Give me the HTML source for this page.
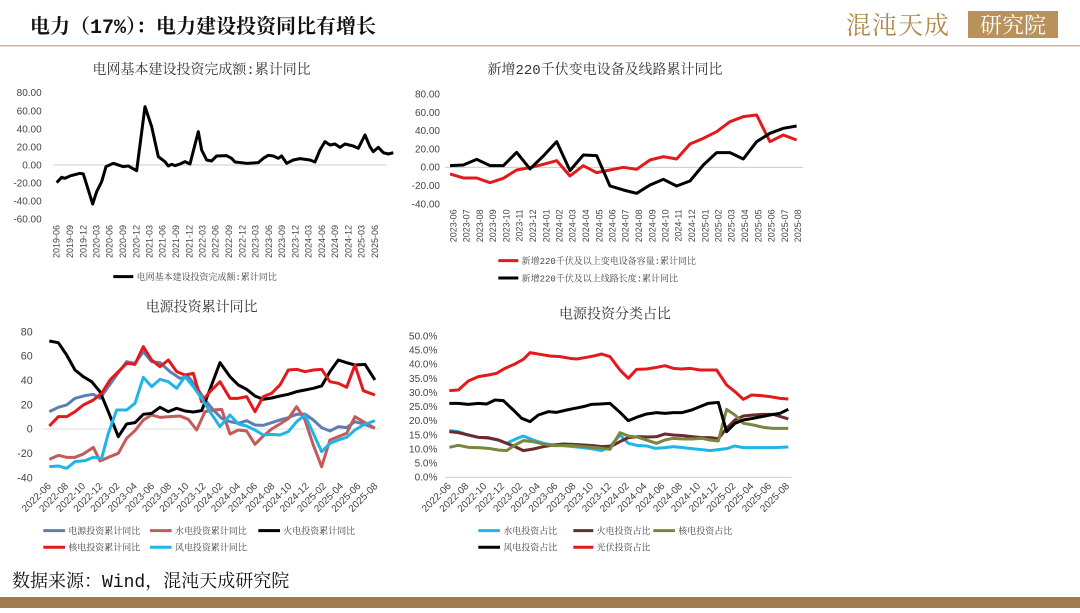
<!DOCTYPE html>
<html><head><meta charset="utf-8"><style>
body{margin:0;width:1080px;height:608px;background:#fff;overflow:hidden;font-family:"Liberation Sans","Noto Sans CJK SC",sans-serif}
svg text{font-family:"Liberation Sans","Noto Sans CJK SC",sans-serif}
svg text.s{font-family:"Liberation Mono","Noto Serif CJK SC",serif}
</style></head><body>
<svg width="1080" height="608" viewBox="0 0 1080 608" xmlns="http://www.w3.org/2000/svg">
<text x="30" y="33" font-size="20" font-weight="bold" fill="#111" class="s">电力（17%）：电力建设投资同比有增长</text>
<text x="846" y="34" font-size="25" fill="#b08a4a" class="s" letter-spacing="1">混沌天成</text>
<rect x="968" y="11" width="90" height="27" fill="#b8925a"/>
<text x="1013" y="33" font-size="22" fill="#fff" text-anchor="middle" class="s">研究院</text>
<rect x="0" y="45" width="1080" height="1.5" fill="#c9b99a"/>
<text x="12" y="587" font-size="18" fill="#111" class="s">数据来源：Wind，混沌天成研究院</text>
<rect x="0" y="597" width="1080" height="11" fill="#a37c4d"/>

<!-- Chart 1 -->
<g transform="translate(0,50) scale(0.3333)" fill="#444">
<text x="605" y="72" font-size="42" text-anchor="middle" fill="#333" class="s">电网基本建设投资完成额:累计同比</text>
<g font-size="30" text-anchor="end">
<text x="125" y="138">80.00</text><text x="125" y="193">60.00</text><text x="125" y="247">40.00</text><text x="125" y="301">20.00</text><text x="125" y="355">0.00</text><text x="125" y="409">-20.00</text><text x="125" y="463">-40.00</text><text x="125" y="518">-60.00</text>
</g>
<line x1="160" y1="345" x2="1160" y2="345" stroke="#ccc" stroke-width="3"/>
<g font-size="27" text-anchor="end">
<text transform="translate(179,525) rotate(-90)">2019-06</text><text transform="translate(219,525) rotate(-90)">2019-09</text><text transform="translate(259,525) rotate(-90)">2019-12</text><text transform="translate(298,525) rotate(-90)">2020-03</text><text transform="translate(338,525) rotate(-90)">2020-06</text><text transform="translate(378,525) rotate(-90)">2020-09</text><text transform="translate(418,525) rotate(-90)">2020-12</text><text transform="translate(458,525) rotate(-90)">2021-03</text><text transform="translate(497,525) rotate(-90)">2021-06</text><text transform="translate(537,525) rotate(-90)">2021-09</text><text transform="translate(577,525) rotate(-90)">2021-12</text><text transform="translate(617,525) rotate(-90)">2022-03</text><text transform="translate(656,525) rotate(-90)">2022-06</text><text transform="translate(696,525) rotate(-90)">2022-09</text><text transform="translate(736,525) rotate(-90)">2022-12</text><text transform="translate(776,525) rotate(-90)">2023-03</text><text transform="translate(816,525) rotate(-90)">2023-06</text><text transform="translate(855,525) rotate(-90)">2023-09</text><text transform="translate(895,525) rotate(-90)">2023-12</text><text transform="translate(935,525) rotate(-90)">2024-03</text><text transform="translate(975,525) rotate(-90)">2024-06</text><text transform="translate(1014,525) rotate(-90)">2024-09</text><text transform="translate(1054,525) rotate(-90)">2024-12</text><text transform="translate(1094,525) rotate(-90)">2025-03</text><text transform="translate(1134,525) rotate(-90)">2025-06</text>
</g>
<polyline fill="none" stroke="#000" stroke-width="9" stroke-linejoin="round" points="170,398 185,382 195,385 210,378 240,370 250,372 278,462 290,425 305,395 318,350 340,340 370,350 385,348 410,362 435,170 455,230 475,320 495,335 505,348 515,343 525,347 540,342 555,335 570,342 595,245 605,300 620,330 635,333 650,318 680,317 695,325 705,336 740,340 775,338 790,325 805,316 820,318 835,325 845,318 860,340 880,330 900,326 930,330 945,336 960,300 975,275 990,285 1005,282 1020,292 1035,282 1060,288 1075,295 1095,255 1110,290 1120,305 1135,292 1150,308 1165,312 1180,308"/>
<line x1="340" y1="680" x2="400" y2="680" stroke="#000" stroke-width="9"/>
<text x="410" y="690" font-size="27" class="s">电网基本建设投资完成额:累计同比</text>
</g>

<!-- Chart 2 -->
<g transform="translate(400,50) scale(0.3333)" fill="#444">
<text x="615" y="72" font-size="42" text-anchor="middle" fill="#333" class="s">新增220千伏变电设备及线路累计同比</text>
<g font-size="30" text-anchor="end">
<text x="120" y="143">80.00</text><text x="120" y="198">60.00</text><text x="120" y="252">40.00</text><text x="120" y="307">20.00</text><text x="120" y="362">0.00</text><text x="120" y="417">-20.00</text><text x="120" y="472">-40.00</text>
</g>
<line x1="135" y1="352" x2="1210" y2="352" stroke="#ccc" stroke-width="3"/>
<g font-size="27" text-anchor="end">
<text transform="translate(169,478) rotate(-90)">2023-06</text><text transform="translate(209,478) rotate(-90)">2023-07</text><text transform="translate(249,478) rotate(-90)">2023-08</text><text transform="translate(288,478) rotate(-90)">2023-09</text><text transform="translate(328,478) rotate(-90)">2023-10</text><text transform="translate(368,478) rotate(-90)">2023-11</text><text transform="translate(408,478) rotate(-90)">2023-12</text><text transform="translate(448,478) rotate(-90)">2024-01</text><text transform="translate(487,478) rotate(-90)">2024-02</text><text transform="translate(527,478) rotate(-90)">2024-03</text><text transform="translate(567,478) rotate(-90)">2024-04</text><text transform="translate(607,478) rotate(-90)">2024-05</text><text transform="translate(646,478) rotate(-90)">2024-06</text><text transform="translate(686,478) rotate(-90)">2024-07</text><text transform="translate(726,478) rotate(-90)">2024-08</text><text transform="translate(766,478) rotate(-90)">2024-09</text><text transform="translate(806,478) rotate(-90)">2024-10</text><text transform="translate(845,478) rotate(-90)">2024-11</text><text transform="translate(885,478) rotate(-90)">2024-12</text><text transform="translate(925,478) rotate(-90)">2025-01</text><text transform="translate(965,478) rotate(-90)">2025-02</text><text transform="translate(1004,478) rotate(-90)">2025-03</text><text transform="translate(1044,478) rotate(-90)">2025-04</text><text transform="translate(1084,478) rotate(-90)">2025-05</text><text transform="translate(1124,478) rotate(-90)">2025-06</text><text transform="translate(1164,478) rotate(-90)">2025-07</text><text transform="translate(1203,478) rotate(-90)">2025-08</text>
</g>
<polyline fill="none" stroke="#e3191c" stroke-width="9" stroke-linejoin="round" points="150,372 190,384 230,384 270,398 310,385 350,360 390,353 430,343 470,332 510,378 550,347 590,368 630,360 670,352 710,358 750,330 790,320 830,327 870,282 910,265 950,245 990,215 1030,200 1070,195 1110,275 1150,255 1190,270"/>
<polyline fill="none" stroke="#000" stroke-width="9" stroke-linejoin="round" points="150,347 190,345 230,328 270,347 310,347 350,307 390,357 430,318 470,275 510,362 550,315 590,317 630,408 670,420 710,430 750,405 790,388 830,408 870,393 910,345 950,308 990,308 1030,327 1070,275 1110,250 1150,235 1190,228"/>
<line x1="295" y1="632" x2="355" y2="632" stroke="#e3191c" stroke-width="9"/>
<text x="365" y="642" font-size="27" class="s">新增220千伏及以上变电设备容量:累计同比</text>
<line x1="295" y1="684" x2="355" y2="684" stroke="#000" stroke-width="9"/>
<text x="365" y="694" font-size="27" class="s">新增220千伏及以上线路长度:累计同比</text>
</g>

<!-- Chart 3 -->
<g transform="translate(0,300) scale(0.3333)" fill="#444">
<text x="605" y="35" font-size="42" text-anchor="middle" fill="#333" class="s">电源投资累计同比</text>
<g font-size="32" text-anchor="end">
<text x="98" y="106">80</text><text x="98" y="179">60</text><text x="98" y="252">40</text><text x="98" y="325">20</text><text x="98" y="398">0</text><text x="98" y="471">-20</text><text x="98" y="544">-40</text>
</g>
<line x1="130" y1="387" x2="1140" y2="387" stroke="#ddd" stroke-width="3"/>
<g font-size="30" text-anchor="end">
<text transform="translate(155,560) rotate(-45)">2022-06</text><text transform="translate(207,560) rotate(-45)">2022-08</text><text transform="translate(258,560) rotate(-45)">2022-10</text><text transform="translate(310,560) rotate(-45)">2022-12</text><text transform="translate(361,560) rotate(-45)">2023-02</text><text transform="translate(413,560) rotate(-45)">2023-04</text><text transform="translate(465,560) rotate(-45)">2023-06</text><text transform="translate(516,560) rotate(-45)">2023-08</text><text transform="translate(568,560) rotate(-45)">2023-10</text><text transform="translate(619,560) rotate(-45)">2023-12</text><text transform="translate(671,560) rotate(-45)">2024-02</text><text transform="translate(723,560) rotate(-45)">2024-04</text><text transform="translate(774,560) rotate(-45)">2024-06</text><text transform="translate(826,560) rotate(-45)">2024-08</text><text transform="translate(877,560) rotate(-45)">2024-10</text><text transform="translate(929,560) rotate(-45)">2024-12</text><text transform="translate(981,560) rotate(-45)">2025-02</text><text transform="translate(1032,560) rotate(-45)">2025-04</text><text transform="translate(1084,560) rotate(-45)">2025-06</text><text transform="translate(1135,560) rotate(-45)">2025-08</text>
</g>
<g fill="none" stroke-width="9" stroke-linejoin="round">
<polyline stroke="#5b7fb5" points="148,335 175,322 200,315 225,295 255,287 280,283 300,295 325,260 350,225 380,185 405,190 430,155 455,185 480,188 510,215 540,235 565,230 590,262 615,300 640,330 665,355 690,365 715,370 740,362 765,375 790,376 815,368 840,360 865,353 890,343 915,342 940,360 965,383 990,393 1015,380 1040,383 1065,365 1090,372 1125,385"/>
<polyline stroke="#c45a5a" points="148,478 175,466 200,472 225,472 250,462 280,442 300,483 325,472 355,460 380,415 405,392 430,360 455,345 480,352 510,350 540,348 565,358 590,390 615,335 640,330 665,328 690,402 715,390 740,393 765,433 790,408 815,387 840,372 865,356 890,320 915,360 940,435 965,500 990,420 1015,410 1040,400 1065,350 1090,365 1125,385"/>
<polyline stroke="#000" points="148,123 175,128 200,165 225,210 250,230 275,245 300,275 325,335 355,410 380,372 405,368 430,343 455,340 480,322 505,335 530,325 555,333 580,336 605,332 630,268 660,188 690,230 715,255 740,268 765,288 790,298 815,294 840,288 865,283 890,275 915,270 940,265 965,258 990,215 1015,180 1040,188 1065,195 1095,193 1125,240"/>
<polyline stroke="#e3191c" points="148,378 175,350 200,350 225,335 250,315 280,300 305,280 330,240 355,215 380,190 405,193 430,140 455,180 480,200 505,180 530,215 555,225 580,220 605,305 630,275 660,245 690,295 715,295 740,290 765,335 790,290 815,280 840,255 865,210 890,208 915,215 940,210 965,208 990,245 1015,250 1040,262 1065,195 1090,272 1125,285"/>
<polyline stroke="#1fb5e6" points="148,500 175,498 200,505 225,485 255,482 280,472 305,475 325,400 350,330 380,330 405,310 430,232 455,260 480,238 505,245 530,265 555,230 580,260 605,295 630,335 660,380 690,345 715,372 740,378 765,390 790,405 815,403 840,405 865,395 890,365 915,345 940,400 965,455 990,430 1015,420 1040,412 1065,390 1090,375 1125,362"/>
</g>
<g stroke-width="9">
<line x1="130" y1="692" x2="195" y2="692" stroke="#5b7fb5"/><line x1="450" y1="692" x2="515" y2="692" stroke="#c45a5a"/><line x1="775" y1="692" x2="840" y2="692" stroke="#000"/>
<line x1="130" y1="742" x2="195" y2="742" stroke="#e3191c"/><line x1="450" y1="742" x2="515" y2="742" stroke="#1fb5e6"/>
</g>
<g font-size="27"><text class="s" x="205" y="702">电源投资累计同比</text><text class="s" x="525" y="702">水电投资累计同比</text><text class="s" x="850" y="702">火电投资累计同比</text><text class="s" x="205" y="752">核电投资累计同比</text><text class="s" x="525" y="752">风电投资累计同比</text></g>
</g>

<!-- Chart 4 -->
<g transform="translate(400,300) scale(0.3333)" fill="#444">
<text x="645" y="55" font-size="42" text-anchor="middle" fill="#333" class="s">电源投资分类占比</text>
<g font-size="30" text-anchor="end">
<text x="112" y="118">50.0%</text><text x="112" y="160">45.0%</text><text x="112" y="203">40.0%</text><text x="112" y="246">35.0%</text><text x="112" y="288">30.0%</text><text x="112" y="330">25.0%</text><text x="112" y="372">20.0%</text><text x="112" y="415">15.0%</text><text x="112" y="457">10.0%</text><text x="112" y="500">5.0%</text><text x="112" y="542">0.0%</text>
</g>
<line x1="135" y1="532" x2="1175" y2="532" stroke="#ccc" stroke-width="3"/>
<g font-size="30" text-anchor="end">
<text transform="translate(155,560) rotate(-45)">2022-06</text><text transform="translate(208,560) rotate(-45)">2022-08</text><text transform="translate(262,560) rotate(-45)">2022-10</text><text transform="translate(315,560) rotate(-45)">2022-12</text><text transform="translate(369,560) rotate(-45)">2023-02</text><text transform="translate(422,560) rotate(-45)">2023-04</text><text transform="translate(475,560) rotate(-45)">2023-06</text><text transform="translate(529,560) rotate(-45)">2023-08</text><text transform="translate(582,560) rotate(-45)">2023-10</text><text transform="translate(636,560) rotate(-45)">2023-12</text><text transform="translate(689,560) rotate(-45)">2024-02</text><text transform="translate(742,560) rotate(-45)">2024-04</text><text transform="translate(796,560) rotate(-45)">2024-06</text><text transform="translate(849,560) rotate(-45)">2024-08</text><text transform="translate(903,560) rotate(-45)">2024-10</text><text transform="translate(956,560) rotate(-45)">2024-12</text><text transform="translate(1009,560) rotate(-45)">2025-02</text><text transform="translate(1063,560) rotate(-45)">2025-04</text><text transform="translate(1116,560) rotate(-45)">2025-06</text><text transform="translate(1170,560) rotate(-45)">2025-08</text>
</g>
<g fill="none" stroke-width="9" stroke-linejoin="round">
<polyline stroke="#1fb5e6" points="148,392 175,395 205,405 235,412 265,415 295,420 320,430 345,418 370,408 400,420 430,430 460,435 490,437 520,440 550,443 580,447 605,452 630,440 660,405 685,430 710,436 740,438 765,445 795,443 820,440 850,443 875,446 905,449 930,452 955,449 980,446 1005,438 1030,443 1060,443 1090,443 1120,443 1165,441"/>
<polyline stroke="#6b2a2e" points="148,395 175,398 205,405 235,412 265,413 295,420 320,430 345,440 370,452 400,447 430,440 460,435 490,432 520,433 550,435 580,437 605,440 635,438 660,425 685,413 715,410 745,411 770,410 795,402 820,405 850,407 875,410 905,413 930,413 955,416 980,385 1005,360 1030,348 1060,345 1090,343 1120,343 1165,357"/>
<polyline stroke="#77873d" points="148,442 175,436 205,442 235,443 265,445 295,450 320,452 345,435 370,422 400,425 430,432 460,437 490,437 520,437 550,440 580,442 605,445 630,448 660,398 685,408 715,412 745,422 770,430 795,420 820,415 850,417 875,417 905,415 930,420 955,423 980,328 1005,345 1030,370 1060,375 1090,382 1120,385 1165,385"/>
<polyline stroke="#000" points="148,310 175,310 205,313 235,310 260,312 285,300 310,302 340,330 365,355 390,365 415,345 445,335 470,337 500,330 525,325 550,320 575,313 600,312 630,310 660,337 685,362 715,350 740,342 770,338 795,340 820,338 845,338 875,330 900,320 925,310 955,307 980,395 1005,370 1030,360 1060,355 1085,350 1110,345 1140,340 1165,328"/>
<polyline stroke="#e3191c" points="148,272 175,270 205,243 235,230 265,225 290,220 315,205 345,192 370,178 390,158 420,163 450,168 480,170 510,175 530,177 560,172 585,167 605,162 630,170 660,210 685,235 710,208 740,207 765,203 795,197 820,205 845,207 870,205 900,210 925,210 950,210 980,255 1005,275 1030,298 1055,285 1085,287 1110,290 1140,295 1165,297"/>
</g>
<g stroke-width="9">
<line x1="235" y1="692" x2="300" y2="692" stroke="#1fb5e6"/><line x1="520" y1="692" x2="580" y2="692" stroke="#6b2a2e"/><line x1="760" y1="692" x2="825" y2="692" stroke="#77873d"/>
<line x1="235" y1="742" x2="300" y2="742" stroke="#000"/><line x1="520" y1="742" x2="580" y2="742" stroke="#e3191c"/>
</g>
<g font-size="27"><text class="s" x="310" y="702">水电投资占比</text><text class="s" x="590" y="702">火电投资占比</text><text class="s" x="835" y="702">核电投资占比</text><text class="s" x="310" y="752">风电投资占比</text><text class="s" x="590" y="752">光伏投资占比</text></g>
</g>
</svg>
</body></html>
